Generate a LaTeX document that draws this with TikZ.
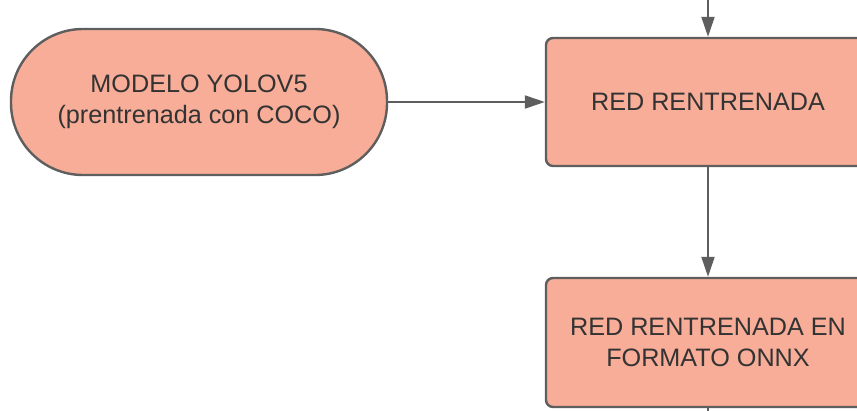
\documentclass[tikz,border=0pt]{standalone}
\usepackage{fontspec}
\setmainfont{Liberation Sans}
\usetikzlibrary{arrows.meta}
\definecolor{boxfill}{HTML}{F7AD97}
\definecolor{boxline}{HTML}{5E5E5E}
\definecolor{txt}{HTML}{333333}
\begin{document}
\begin{tikzpicture}[x=1pt,y=-1pt,
  box/.style={draw=boxline,fill=boxfill,line width=2.4pt,rounded corners=7pt,
    minimum width=324pt,minimum height=128pt,text=txt,
    font=\fontsize{25.2}{31}\selectfont,align=center,inner sep=0pt},
  term/.style={box,rounded corners=72pt,minimum width=376pt,minimum height=146pt},
  conn/.style={draw=boxline,line width=2pt,-{Triangle[length=20pt,width=13pt]}},
  plain/.style={draw=boxline,line width=2pt}]
\useasboundingbox (0,0) rectangle (857,410);
\clip (0,0) rectangle (857,410);
\node[term] (s) at (199,102) {MODELO YOLOV5\\(prentrenada con COCO)};
\node[box] (r1) at (708,102) {RED RENTRENADA};
\node[box,minimum height=129pt] (r2) at (708,342.5) {RED RENTRENADA EN\\FORMATO ONNX};
\coordinate (top) at (708,-5);
\coordinate (bot) at (708,420);
\draw[conn] (top) -- (r1.north);
\draw[conn] (s.east) -- (r1.west);
\draw[conn] (r1.south) -- (r2.north);
\draw[plain] (r2.south) -- (bot);
\end{tikzpicture}
\end{document}
